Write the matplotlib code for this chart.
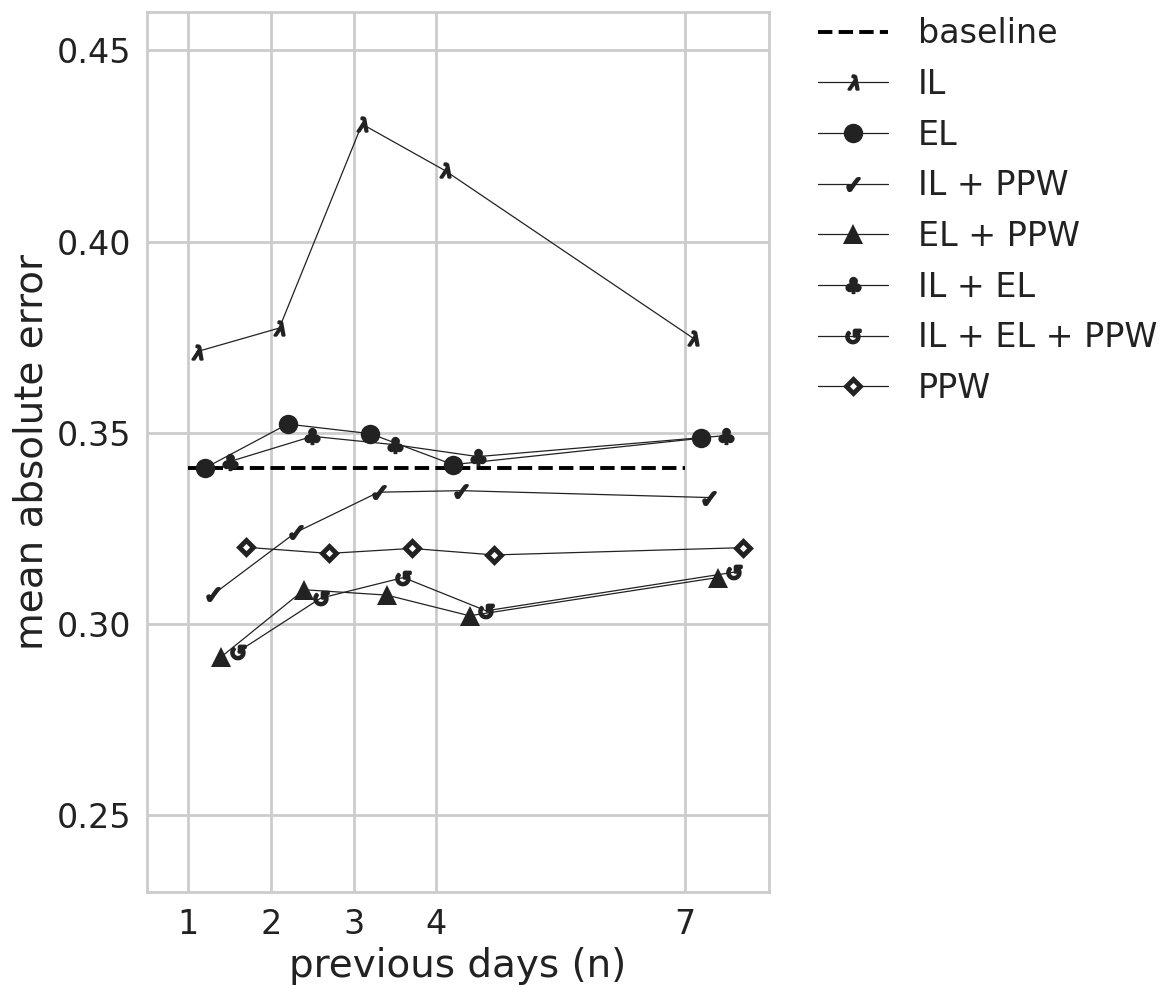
import numpy as np
import matplotlib
matplotlib.use('Agg')
import matplotlib.pyplot as plt
import seaborn as sns

days = [1, 2, 3, 4, 7]
baseline = 0.3408

labels = ['IL', 'EL', 'IL + PPW', 'EL + PPW', 'IL + EL', 'IL + EL + PPW', 'PPW']
mae_il = [0.3712, 0.3774, 0.4307, 0.4186, 0.3748]
mae_el = [0.3408, 0.3523, 0.3498, 0.3417, 0.3486]
mae_il_ppw = [0.3078, 0.3240, 0.3345, 0.3349, 0.3331]
mae_el_ppw = [0.2915, 0.3090, 0.3076, 0.3022, 0.3122]
mae_il_el = [0.3425, 0.3491, 0.3469, 0.3438, 0.3493]
mae_il_el_ppw = [0.2928, 0.3068, 0.3122, 0.3035, 0.3136]
mae_ppw = [0.3201, 0.3185, 0.3198, 0.3181, 0.3200]

series = [mae_il, mae_el, mae_il_ppw, mae_el_ppw, mae_il_el, mae_il_el_ppw, mae_ppw]

sns.set_style('whitegrid')
plt.rcParams['font.family'] = ['DejaVu Sans']

INK = '#222222'
# marker style per series
styles = [
    dict(marker=r'$\lambda$', ms=10, mew=1.8),
    dict(marker='o', ms=14, mew=0),
    dict(marker=r'$\checkmark$', ms=9, mew=1.8),
    dict(marker='^', ms=14, mew=0),
    dict(marker=r'$\clubsuit$', ms=11, mew=1.5),
    dict(marker=r'$\circlearrowleft$', ms=10, mew=2.0),
    dict(marker='D', ms=7, mew=3.5, mfc='white'),
]

fig = plt.figure(figsize=(11.74, 9.85), dpi=100)
ax = fig.add_axes([0.1252, 0.0944, 0.5298, 0.8934])

x = np.array(days, dtype=float)
ax.plot([days[0], days[-1]], [baseline, baseline], '--', color='black',
        linewidth=2.8, label='baseline')
for i, (lab, y) in enumerate(zip(labels, series)):
    st = dict(styles[i])
    mfc = st.pop('mfc', INK)
    ax.plot(x + 0.1 * (i + 1), y, '-', color=INK, linewidth=0.9,
            markerfacecolor=mfc, markeredgecolor=INK, label=lab, **st)

ax.set_xlim(0.5, 8.02)
ax.set_ylim(0.23, 0.46)
ax.set_xticks(days)
ax.set_yticks([0.25, 0.30, 0.35, 0.40, 0.45])
ax.set_yticklabels(['{:.2f}'.format(v) for v in [0.25, 0.30, 0.35, 0.40, 0.45]])
ax.tick_params(labelsize=24, colors=INK, pad=8)
ax.set_xlabel('previous days (n)', fontsize=28, color=INK)
ax.set_ylabel('mean absolute error', fontsize=28, color=INK)
for sp in ax.spines.values():
    sp.set_color('#cccccc')
    sp.set_linewidth(2)
ax.grid(color='#cccccc', linewidth=2)

leg = ax.legend(loc='upper left', bbox_to_anchor=(1.03, 1.028), frameon=False,
                fontsize=24, handlelength=2.1, handletextpad=0.9,
                labelspacing=0.53)
for t in leg.get_texts():
    t.set_color(INK)

fig.savefig('out.png', dpi=100)
